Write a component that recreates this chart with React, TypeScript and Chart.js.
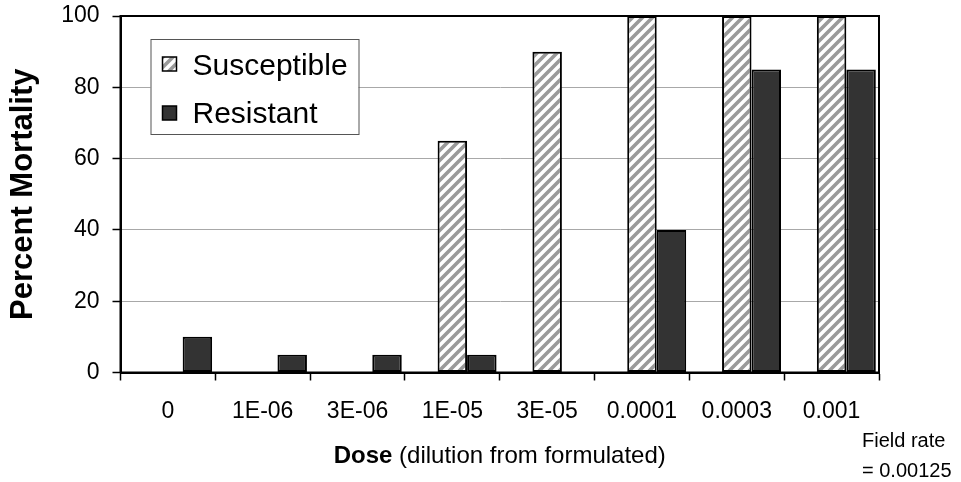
import React, { useEffect, useRef } from "react";
import { Chart, registerables } from "chart.js";

Chart.register(...registerables);

const categories = ["0", "1E-06", "3E-06", "1E-05", "3E-05", "0.0001", "0.0003", "0.001"];
const susceptible = [0, 0, 0, 65, 90, 100, 100, 100];
const resistant = [10, 5, 5, 5, 0, 40, 85, 85];
const seriesNames = ["Susceptible", "Resistant"];
const yMin = 0;
const yMax = 100;
const yStep = 20;
const yTitle = "Percent Mortality";
const xTitleBold = "Dose";
const xTitleRest = " (dilution from formulated)";
const noteLines = ["Field rate", "= 0.00125"];

const FONT = '"Liberation Sans", Arial, sans-serif';

function makeHatch(): CanvasPattern | string {
  const n = 10;
  const c = document.createElement("canvas");
  c.width = n;
  c.height = n;
  const g = c.getContext("2d");
  if (!g) return "#999";
  g.fillStyle = "#ffffff";
  g.fillRect(0, 0, n, n);
  g.strokeStyle = "#9a9a9a";
  g.lineWidth = 3.6;
  g.beginPath();
  g.moveTo(-3, n + 3);
  g.lineTo(n + 3, -3);
  g.moveTo(-3, 3);
  g.lineTo(3, -3);
  g.moveTo(n - 3, n + 3);
  g.lineTo(n + 3, n - 3);
  g.stroke();
  const p = g.createPattern(c, "repeat");
  return p || "#999";
}

const decorPlugin = {
  id: "decor",
  afterDraw(chart: any) {
    const ctx = chart.ctx as CanvasRenderingContext2D;
    const a = chart.chartArea;
    ctx.save();
    // plot border
    ctx.strokeStyle = "#000";
    ctx.lineWidth = 2;
    ctx.strokeRect(a.left, a.top, a.right - a.left, a.bottom - a.top);

    // legend
    const lx = a.left + 30;
    const ly = a.top + 23;
    ctx.fillStyle = "#fff";
    ctx.fillRect(lx, ly, 208, 95);
    ctx.strokeStyle = "#555";
    ctx.lineWidth = 1;
    ctx.strokeRect(lx + 0.5, ly + 0.5, 208, 95);
    const ds = chart.data.datasets.slice(1);
    ds.forEach((d: any, i: number) => {
      const sy = ly + 18 + i * 49;
      ctx.fillStyle = d.backgroundColor;
      ctx.fillRect(lx + 12, sy, 14, 14);
      ctx.strokeStyle = "#000";
      ctx.lineWidth = 1.5;
      ctx.strokeRect(lx + 12, sy, 14, 14);
      ctx.fillStyle = "#000";
      ctx.font = `30px ${FONT}`;
      ctx.textAlign = "left";
      ctx.textBaseline = "alphabetic";
      ctx.fillText(d.label, lx + 42, ly + 36 + i * 48);
    });

    // y title
    ctx.save();
    ctx.translate(32, (a.top + a.bottom) / 2);
    ctx.rotate(-Math.PI / 2);
    ctx.font = `bold 31px ${FONT}`;
    ctx.fillStyle = "#000";
    ctx.textAlign = "center";
    ctx.textBaseline = "alphabetic";
    ctx.fillText(yTitle, 0, 0);
    ctx.restore();

    // x title
    ctx.font = `bold 24px ${FONT}`;
    const wb = ctx.measureText(xTitleBold).width;
    ctx.font = `24px ${FONT}`;
    const wr = ctx.measureText(xTitleRest).width;
    const cx = (a.left + a.right) / 2;
    const sx = cx - (wb + wr) / 2;
    ctx.fillStyle = "#000";
    ctx.textAlign = "left";
    ctx.textBaseline = "alphabetic";
    ctx.font = `bold 24px ${FONT}`;
    ctx.fillText(xTitleBold, sx, 463);
    ctx.font = `24px ${FONT}`;
    ctx.fillText(xTitleRest, sx + wb, 463);

    // note
    ctx.font = `20px ${FONT}`;
    ctx.fillText(noteLines[0], 862, 447);
    ctx.fillText(noteLines[1], 862, 477);
    ctx.restore();
  },
};

export default function App() {
  const ref = useRef<HTMLCanvasElement | null>(null);
  useEffect(() => {
    if (!ref.current) return;
    const hatch = makeHatch();
    const chart = new Chart(ref.current, {
      type: "bar",
      data: {
        labels: categories,
        datasets: [
          {
            label: "",
            data: categories.map(() => null),
            backgroundColor: "rgba(0,0,0,0)",
          },
          {
            label: seriesNames[0],
            data: susceptible,
            backgroundColor: hatch as any,
            borderColor: "#000",
            borderWidth: 2,
            borderSkipped: false,
          },
          {
            label: seriesNames[1],
            data: resistant,
            backgroundColor: "#333333",
            borderColor: "#000",
            borderWidth: 2,
            borderSkipped: false,
          },
        ],
      },
      options: {
        animation: false,
        responsive: false,
        maintainAspectRatio: false,
        devicePixelRatio: 1,
        layout: { padding: { left: 0, top: 16, right: 82, bottom: 0 } },
        datasets: {
          bar: { categoryPercentage: 0.933, barPercentage: 1 },
        },
        plugins: {
          legend: { display: false },
          tooltip: { enabled: false },
          title: { display: false },
        },
        scales: {
          x: {
            afterFit: (s: any) => {
              s.height = 109.5;
              s.paddingLeft = 0;
              s.paddingRight = 0;
              s.paddingTop = 0;
              s.paddingBottom = 0;
            },
            grid: {
              offset: true,
              drawOnChartArea: false,
              drawTicks: true,
              tickLength: 8,
              tickColor: "#000",
              tickWidth: 1.5,
            },
            border: { color: "#000", width: 2 },
            ticks: {
              color: "#000",
              font: { family: FONT, size: 23 },
              padding: 17,
              maxRotation: 0,
              autoSkip: false,
            },
          },
          y: {
            min: yMin,
            max: yMax,
            afterFit: (s: any) => {
              s.width = 120.5;
              s.paddingTop = 0;
              s.paddingBottom = 0;
              s.paddingLeft = 0;
              s.paddingRight = 0;
            },
            grid: {
              color: "#a8a8a8",
              lineWidth: 1,
              drawTicks: true,
              tickLength: 8,
              tickColor: "#000",
              tickWidth: 1.5,
            },
            border: { color: "#000", width: 2 },
            ticks: {
              stepSize: yStep,
              color: "#000",
              font: { family: FONT, size: 23 },
              padding: 13,
            },
          },
        },
      },
      plugins: [decorPlugin],
    });
    return () => chart.destroy();
  }, []);
  return (
    <div style={{ position: "fixed", left: 0, top: 0, width: 961, height: 482, background: "#fff" }}>
      <canvas ref={ref} width={961} height={482} style={{ width: 961, height: 482 }} />
    </div>
  );
}
